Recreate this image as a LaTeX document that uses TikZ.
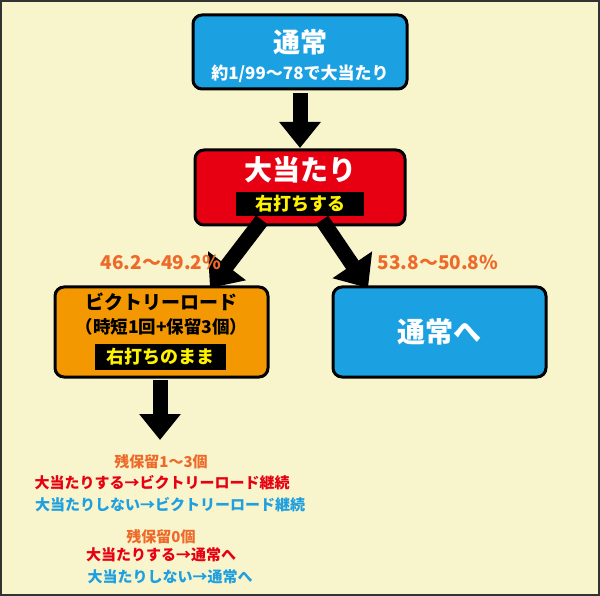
\documentclass[tikz,border=0pt]{standalone}
\usepackage{fontspec}
\setmainfont{Noto Sans CJK JP}[BoldFont={* Black}]
\usetikzlibrary{arrows.meta}
\definecolor{bg}{HTML}{F8F5CC}
\definecolor{cblue}{HTML}{1BA1E2}
\definecolor{cred}{HTML}{E60012}
\definecolor{corange}{HTML}{F39800}
\definecolor{tor}{HTML}{EE6A2A}
\definecolor{tred}{HTML}{E60012}
\definecolor{tblue}{HTML}{1E9FE0}
\begin{document}
\begin{tikzpicture}[x=1pt,y=-1pt,font=\bfseries,
  box/.style={draw=black,line width=3pt,rounded corners=9pt,inner sep=0pt},
  blk/.style={fill=black,inner sep=0pt},
  arr/.style={line width=15pt,-{Triangle[width=40pt,length=26pt]}},
  lbl/.style={inner sep=0pt,font=\bfseries\fontsize{15}{17}\selectfont}]
\useasboundingbox (0,0) rectangle (600,596);
\fill[bg] (0,0) rectangle (600,596);
\draw[line width=2pt,draw=black!80] (1,1) rectangle (599,595);
% boxes
\node[box,fill=cblue,minimum width=214pt,minimum height=74pt] (n1) at (300,52) {};
\node[font=\bfseries\fontsize{27}{29}\selectfont,white] (n1a) at (300,42) {通常};
\node[font=\bfseries\fontsize{17}{19}\selectfont,white] (n1b) at (300,74) {約1/99〜78で大当たり};
\node[box,fill=cred,minimum width=210pt,minimum height=75pt] (n2) at (300,187.5) {};
\node[font=\bfseries\fontsize{28}{30}\selectfont,white] (n2a) at (300,170) {大当たり};
\node[blk,minimum width=128pt,minimum height=24pt,text=yellow,font=\bfseries\fontsize{18}{20}\selectfont] (n2b) at (300,204) {右打ちする};
\node[box,fill=corange,minimum width=213pt,minimum height=90pt] (n3) at (161.5,332) {};
\node[font=\bfseries\fontsize{19}{21}\selectfont,black] (n3a) at (161.5,302) {ビクトリーロード};
\node[font=\bfseries\fontsize{17.5}{19}\selectfont,black] (n3b) at (161.5,327) {（時短1回+保留3個）};
\node[blk,minimum width=131pt,minimum height=26pt,text=yellow,font=\bfseries\fontsize{18}{20}\selectfont] (n3c) at (160.5,357) {右打ちのまま};
\node[box,fill=cblue,minimum width=213pt,minimum height=90pt,font=\bfseries\fontsize{28}{30}\selectfont,text=white] (n4) at (439.5,332) {通常へ};
% arrows
\coordinate (a1) at (300,93);
\coordinate (a1e) at (300,148);
\draw[arr] (a1) -- (a1e);
\coordinate (a2) at (262,220);
\coordinate (a2e) at (210,288);
\draw[arr,-{Triangle[width=46pt,length=28pt]}] (a2) -- (a2e);
\coordinate (a3) at (322,220);
\coordinate (a3e) at (368,288);
\draw[arr,-{Triangle[width=46pt,length=28pt]}] (a3) -- (a3e);
\coordinate (a4) at (160,380);
\coordinate (a4e) at (160,440);
\draw[arr] (a4) -- (a4e);
% labels
\node[lbl,tor,font=\bfseries\fontsize{19}{21}\selectfont] (p1) at (161,262) {46.2〜49.2\%};
\node[lbl,tor,font=\bfseries\fontsize{19}{21}\selectfont] (p2) at (438,262) {53.8〜50.8\%};
\node[lbl,tor] (t1) at (161,462) {残保留1〜3個};
\node[lbl,tred] (t2) at (162,483) {大当たりする→ビクトリーロード継続};
\node[lbl,tblue] (t3) at (170,505) {大当たりしない→ビクトリーロード継続};
\node[lbl,tor] (t4) at (161,537) {残保留0個};
\node[lbl,tred] (t5) at (161,555) {大当たりする→通常へ};
\node[lbl,tblue] (t6) at (170,577) {大当たりしない→通常へ};
\end{tikzpicture}
\end{document}
